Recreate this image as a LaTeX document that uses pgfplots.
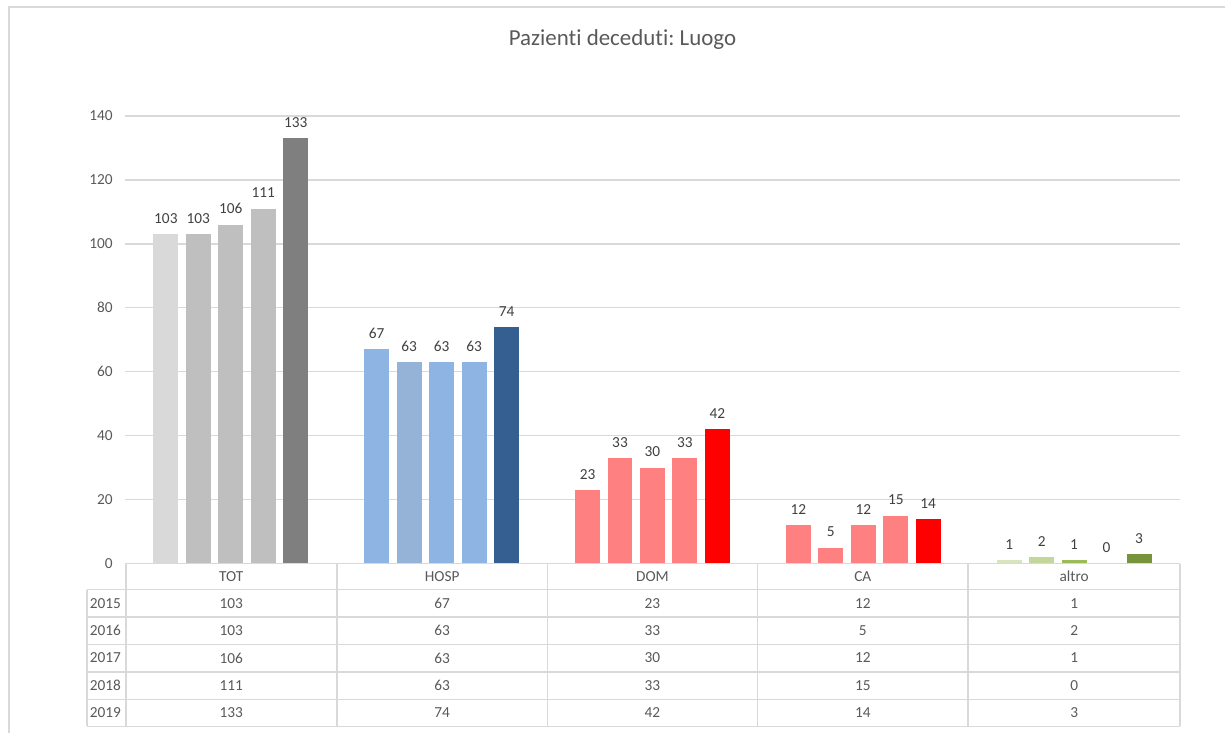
\documentclass[border=0pt]{standalone}
\usepackage{fontspec}
\setmainfont{Carlito}[Ligatures={NoCommon}]
\usepackage{pgfplots}
\pgfplotsset{compat=1.18}
\definecolor{txt}{HTML}{595959}
\definecolor{lbl}{HTML}{404040}
\definecolor{gridc}{HTML}{D9D9D9}
\definecolor{ta}{HTML}{D9D9D9}
\definecolor{tb}{HTML}{BFBFBF}
\definecolor{tc}{HTML}{7F7F7F}
\definecolor{ha}{HTML}{8EB4E3}
\definecolor{hb}{HTML}{95B3D7}
\definecolor{hc}{HTML}{365F91}
\definecolor{da}{HTML}{FF8080}
\definecolor{dc}{HTML}{FF0000}
\definecolor{aa}{HTML}{D7E4BD}
\definecolor{ab}{HTML}{C3D69B}
\definecolor{ac}{HTML}{9BBB59}
\definecolor{ad}{HTML}{77933C}
\newcommand{\onebar}[3]{\addplot[ybar, bar width=0.1185, bar shift=0pt, fill=#3, draw=none] coordinates {(#1,#2)};}
\frenchspacing
\begin{document}
\frenchspacing
\begin{tikzpicture}
\begin{scope}[x=0.75pt, y=-0.75pt, shift={(0,550.5pt)}]
\path (0,0) rectangle (1226,734);
\draw[gridc, line width=1.5pt] (9.5,734) -- (9.5,7.5) -- (1226,7.5);
\node[text=txt, font=\fontsize{17.2}{20}\selectfont] at (623,40) {Pazienti deceduti: Luogo};
\end{scope}
\begin{axis}[at={(94.125pt,127.5pt)}, anchor=south west, scale only axis,
  width=791.25pt, height=336pt, xmin=-0.5, xmax=4.5, ymin=0, ymax=140,
  ytick={0,20,...,140}, xtick=\empty, ymajorgrids,
  grid style={gridc, line width=1.1pt}, axis line style={draw=none},
  major tick length=0pt,
  yticklabel style={text=txt, font=\fontsize{11.5}{13}\selectfont, xshift=-6pt},
  /pgf/number format/assume math mode=true,
  nodes near coords,
  every node near coord/.append style={text=lbl, font=\fontsize{11.5}{13}\selectfont, yshift=4.5pt},
  clip=false]
% TOT
\onebar{-0.308}{103}{ta}
\onebar{-0.154}{103}{tb}
\onebar{0}{106}{tb}
\onebar{0.154}{111}{tb}
\onebar{0.308}{133}{tc}
% HOSP
\onebar{0.692}{67}{ha}
\onebar{0.846}{63}{hb}
\onebar{1}{63}{ha}
\onebar{1.154}{63}{ha}
\onebar{1.308}{74}{hc}
% DOM
\onebar{1.692}{23}{da}
\onebar{1.846}{33}{da}
\onebar{2}{30}{da}
\onebar{2.154}{33}{da}
\onebar{2.308}{42}{dc}
% CA
\onebar{2.692}{12}{da}
\onebar{2.846}{5}{da}
\onebar{3}{12}{da}
\onebar{3.154}{15}{da}
\onebar{3.308}{14}{dc}
% altro
\onebar{3.692}{1}{aa}
\onebar{3.846}{2}{ab}
\onebar{4}{1}{ac}
\onebar{4.154}{0}{ab}
\onebar{4.308}{3}{ad}
\end{axis}
\begin{scope}[x=0.75pt, y=-0.75pt, shift={(0,550.5pt)}]
\begin{scope}[gridc, line width=1.2pt]
\draw (126,564) -- (1181,564);
\foreach \yy in {590,617.5,645,672.5,700,727} \draw (87,\yy) -- (1181,\yy);
\draw (87,590) -- (87,727);
\foreach \xx in {126,337,548,758,969,1181} \draw (\xx,564) -- (\xx,727);
\end{scope}
\begin{scope}[text=txt, font=\fontsize{11.5}{13}\selectfont]
\node at (231.5,577) {TOT};
\node at (442.5,577) {HOSP};
\node at (653,577) {DOM};
\node at (863.5,577) {CA};
\node at (1075,577) {altro};
\foreach \yy/\yr/\a/\b/\c/\d/\e in {604/2015/103/67/23/12/1, 631/2016/103/63/33/5/2, 658.5/2017/106/63/30/12/1, 686/2018/111/63/33/15/0, 713.5/2019/133/74/42/14/3}{
  \node[anchor=west, inner sep=2pt] at (87,\yy) {\yr};
  \node at (231.5,\yy) {\a};
  \node at (442.5,\yy) {\b};
  \node at (653,\yy) {\c};
  \node at (863.5,\yy) {\d};
  \node at (1075,\yy) {\e};
}
\end{scope}
\end{scope}
\end{tikzpicture}
\end{document}
